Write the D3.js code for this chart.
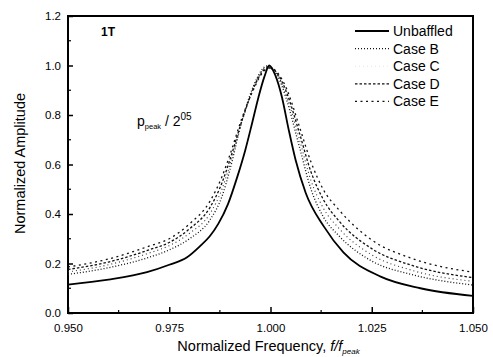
<!DOCTYPE html>
<html>
<head>
<meta charset="utf-8">
<script src="https://cdn.jsdelivr.net/npm/d3@7"></script>
<style>
  body { margin: 0; background: #fff; }
  #chart { width: 493px; height: 357px; }
  text { font-family: "Liberation Sans", Arial, sans-serif; fill: #000; }
</style>
</head>
<body>
<div id="chart"></div>
<script>
// values
const freqUnbaffled = [0.950, 0.960, 0.9695, 0.975, 0.9794, 0.9826, 0.985, 0.9871, 0.9895, 0.9918, 0.9938, 0.9955, 0.997, 0.9985,
  0.9997, 1.0012, 1.0028, 1.0045, 1.0062, 1.0087, 1.0132, 1.018, 1.0272, 1.037, 1.050];
const ampUnbaffled = [0.115, 0.135, 0.165, 0.195, 0.225, 0.27, 0.31, 0.36, 0.44, 0.55, 0.66, 0.77, 0.87, 0.955,
  1.0, 0.96, 0.874, 0.74, 0.618, 0.485, 0.349, 0.245, 0.147, 0.10, 0.069];

const freqCases = [0.950, 0.960, 0.970, 0.975, 0.980, 0.985, 0.988, 0.990, 0.993, 0.996, 0.998, 0.999,
  1.000, 1.002, 1.004, 1.007, 1.010, 1.013, 1.017, 1.025, 1.035, 1.050];
const ampCaseB = [0.156, 0.183, 0.225, 0.255, 0.300, 0.375, 0.47, 0.58, 0.78, 0.925, 0.985, 0.998,
  0.99, 0.95, 0.86, 0.68, 0.50, 0.39, 0.31, 0.21, 0.155, 0.113];
const ampCaseC = [0.166, 0.195, 0.242, 0.272, 0.322, 0.40, 0.50, 0.60, 0.775, 0.92, 0.98, 0.995,
  0.99, 0.955, 0.875, 0.71, 0.535, 0.425, 0.34, 0.235, 0.172, 0.128];
const ampCaseD = [0.176, 0.206, 0.255, 0.285, 0.34, 0.425, 0.525, 0.62, 0.78, 0.915, 0.975, 0.99,
  0.99, 0.96, 0.89, 0.735, 0.57, 0.46, 0.37, 0.26, 0.192, 0.143];
const ampCaseE = [0.186, 0.218, 0.27, 0.30, 0.36, 0.45, 0.55, 0.64, 0.79, 0.91, 0.97, 0.985,
  0.99, 0.965, 0.905, 0.76, 0.61, 0.50, 0.415, 0.295, 0.22, 0.165];

const seriesNames = ["Unbaffled", "Case B", "Case C", "Case D", "Case E"];
const xTicks = [0.950, 0.975, 1.000, 1.025, 1.050];
const yTicks = [0.0, 0.2, 0.4, 0.6, 0.8, 1.0, 1.2];

class ResponseChart {
  #svg;
  #plot;
  #xScale;
  #yScale;
  #width;
  #height;
  #margin;

  constructor(containerID, margin) {
    this.#margin = margin;
    const w = parseInt(d3.select(containerID).style("width").replace("px", ""));
    const h = parseInt(d3.select(containerID).style("height").replace("px", ""));
    this.#width = w - margin.left - margin.right;
    this.#height = h - margin.top - margin.bottom;

    this.#svg = d3.select(containerID).append("svg").attr("width", w).attr("height", h);
    this.#plot = this.#svg.append("g").attr("transform", `translate(${margin.left},${margin.top})`);

    this.#xScale = d3.scaleLinear().domain([0.95, 1.05]).range([0, this.#width]);
    this.#yScale = d3.scaleLinear().domain([0, 1.2]).range([this.#height, 0]);
  }

  get XScale() { return this.#xScale; }
  get YScale() { return this.#yScale; }

  DrawAxes() {
    const x = this.#xScale, y = this.#yScale;
    const minorX = d3.range(0, 8).map(i => 0.9625 + i * 0.025).filter(v => v < 1.05);
    const minorY = d3.range(0, 6).map(i => 0.1 + i * 0.2);

    const xAxis = this.#plot.append("g").attr("transform", `translate(0,${this.#height})`)
      .call(d3.axisBottom(x).tickValues(xTicks).tickSize(-6).tickPadding(11).tickFormat(d3.format(".3f")));
    const yAxis = this.#plot.append("g")
      .call(d3.axisLeft(y).tickValues(yTicks).tickSize(-5).tickPadding(7).tickFormat(d3.format(".1f")));

    [xAxis, yAxis].forEach(a => {
      a.select(".domain").remove();
      a.selectAll("line").attr("stroke", "#000").attr("stroke-width", 1.5);
      a.selectAll("text").style("font-size", "11.5px");
    });

    this.#plot.append("g").selectAll("line").data(minorX).join("line")
      .attr("x1", d => x(d)).attr("x2", d => x(d))
      .attr("y1", this.#height).attr("y2", this.#height - 3)
      .attr("stroke", "#000").attr("stroke-width", 1.2);
    this.#plot.append("g").selectAll("line").data(minorY).join("line")
      .attr("x1", 0).attr("x2", 3)
      .attr("y1", d => y(d)).attr("y2", d => y(d))
      .attr("stroke", "#000").attr("stroke-width", 1.2);

    this.#plot.append("rect")
      .attr("width", this.#width).attr("height", this.#height)
      .attr("fill", "none").attr("stroke", "#000").attr("stroke-width", 2);

    // axis titles
    const xt = this.#svg.append("text")
      .attr("x", this.#margin.left + this.#width / 2 - 2).attr("y", 351)
      .attr("text-anchor", "middle").style("font-size", "14.5px");
    xt.append("tspan").text("Normalized Frequency, ");
    xt.append("tspan").style("font-style", "italic").text("f/f");
    xt.append("tspan").attr("dy", 3).style("font-size", "8px").style("font-style", "italic").text("peak");

    this.#svg.append("text")
      .attr("transform", `translate(25,${this.#margin.top + this.#height / 2 - 1}) rotate(-90)`)
      .attr("text-anchor", "middle").style("font-size", "14.5px")
      .text("Normalized Amplitude");
  }

  DrawSeries(freqs, amps, style) {
    const pts = freqs.map((f, i) => [f, amps[i]]);
    const line = d3.line()
      .x(d => this.#xScale(d[0]))
      .y(d => this.#yScale(d[1]))
      .curve(d3.curveMonotoneX);
    this.#plot.append("path").datum(pts)
      .attr("d", line)
      .attr("fill", "none")
      .attr("stroke", style.color)
      .attr("stroke-width", style.width)
      .attr("stroke-dasharray", style.dash);
  }

  DrawLegend(styles) {
    const g = this.#svg.append("g");
    styles.forEach((s, i) => {
      const yy = 31 + i * 17.6;
      g.append("line").attr("x1", 355).attr("x2", 389).attr("y1", yy).attr("y2", yy)
        .attr("stroke", s.legendColor || s.color).attr("stroke-width", s.width)
        .attr("stroke-dasharray", s.dash);
      g.append("text").attr("x", 393).attr("y", yy + 5).style("font-size", "14px").text(seriesNames[i]);
    });
  }

  DrawLabels() {
    this.#svg.append("text").attr("x", 101).attr("y", 36)
      .style("font-size", "12px").style("font-weight", "bold").text("1T");
    const t = this.#svg.append("text").attr("x", 137).attr("y", 126).style("font-size", "14px");
    t.append("tspan").text("p");
    t.append("tspan").attr("dy", 3).style("font-size", "7.5px").text("peak");
    t.append("tspan").attr("dy", -3).text(" / 2");
    t.append("tspan").attr("dy", -6).style("font-size", "10px").text("05");
  }
}

const chart = new ResponseChart("#chart", { left: 68, right: 20, top: 16, bottom: 44 });

const styles = [
  { color: "#000", width: 1.8, dash: null },
  { color: "#111", width: 1.3, dash: "1,2" },
  { color: "#333", width: 1.1, dash: "1,3", legendColor: "#e6e6e6" },
  { color: "#111", width: 1.3, dash: "2.5,2" },
  { color: "#111", width: 1.3, dash: "2,3.5" }
];

chart.DrawAxes();
chart.DrawSeries(freqCases, ampCaseE, styles[4]);
chart.DrawSeries(freqCases, ampCaseD, styles[3]);
chart.DrawSeries(freqCases, ampCaseC, styles[2]);
chart.DrawSeries(freqCases, ampCaseB, styles[1]);
chart.DrawSeries(freqUnbaffled, ampUnbaffled, styles[0]);
chart.DrawLegend(styles);
chart.DrawLabels();
</script>
</body>
</html>
